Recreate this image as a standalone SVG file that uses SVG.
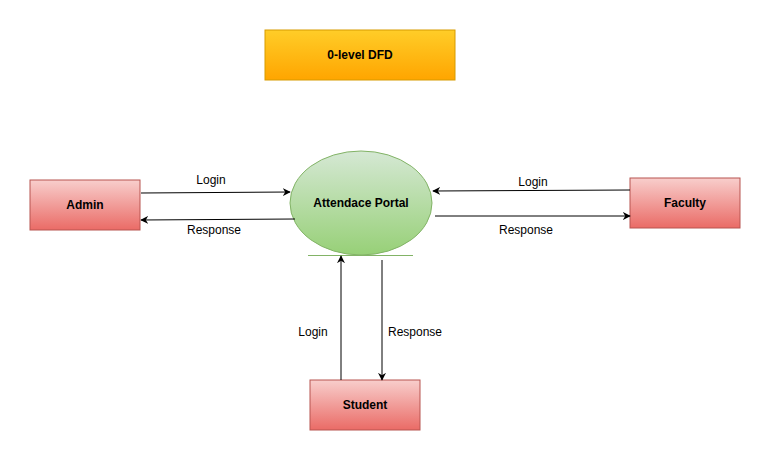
<svg xmlns="http://www.w3.org/2000/svg" width="771" height="461" viewBox="0 0 771 461">
<defs>
<linearGradient id="gy" x1="0" y1="0" x2="0" y2="1"><stop offset="0" stop-color="#ffcd28"/><stop offset="1" stop-color="#ffa500"/></linearGradient>
<linearGradient id="gg" x1="0" y1="0" x2="0" y2="1"><stop offset="0" stop-color="#d5e8d4"/><stop offset="1" stop-color="#97d077"/></linearGradient>
<linearGradient id="gr" x1="0" y1="0" x2="0" y2="1"><stop offset="0" stop-color="#f8cecc"/><stop offset="1" stop-color="#ea6b66"/></linearGradient>
<marker id="ah" viewBox="0 0 10 10" refX="9" refY="5" markerWidth="8" markerHeight="8" markerUnits="userSpaceOnUse" orient="auto"><path d="M0,0 L10,5 L0,10 L3,5 Z" fill="#000"/></marker>
<style>
.lbl{font-family:"Liberation Sans",Arial,sans-serif;font-size:12px;fill:#000;text-anchor:middle}
.nl{font-family:"Liberation Sans",Arial,sans-serif;font-size:12px;font-weight:bold;fill:#000;text-anchor:middle}
.ent{fill:url(#gr);stroke:#b85450;stroke-width:1}
.con{stroke:#000;stroke-width:1;fill:none;marker-end:url(#ah)}
</style>
</defs>
<rect width="771" height="461" fill="#fff"/>
<g id="title">
<rect x="265" y="30" width="190" height="50" fill="url(#gy)" stroke="#d79b00"/>
<text class="nl" x="360" y="59">0-level DFD</text>
</g>
<g id="portal">
<ellipse cx="361" cy="203" rx="71" ry="52" fill="url(#gg)" stroke="#82b366"/>
<line x1="308" y1="255.5" x2="413" y2="255.5" stroke="#82b366"/>
<text class="nl" x="361" y="207">Attendace Portal</text>
</g>
<g id="admin">
<rect class="ent" x="30" y="180" width="110" height="50"/>
<text class="nl" x="85" y="209">Admin</text>
</g>
<g id="faculty">
<rect class="ent" x="630" y="178" width="110" height="50"/>
<text class="nl" x="685" y="207">Faculty</text>
</g>
<g id="student">
<rect class="ent" x="310" y="380" width="110" height="50"/>
<text class="nl" x="365" y="409">Student</text>
</g>
<g id="connectors">
<line class="con" x1="141" y1="193" x2="290" y2="192"/>
<line class="con" x1="295" y1="219" x2="141" y2="220"/>
<line class="con" x1="630" y1="190" x2="433" y2="191"/>
<line class="con" x1="435" y1="216" x2="630" y2="216"/>
<line class="con" x1="341" y1="380" x2="341" y2="256"/>
<line class="con" x1="382" y1="260" x2="382" y2="380"/>
<text class="lbl" x="211" y="184">Login</text>
<text class="lbl" x="214" y="234">Response</text>
<text class="lbl" x="533" y="186">Login</text>
<text class="lbl" x="526" y="234">Response</text>
<text class="lbl" x="313" y="336">Login</text>
<text class="lbl" x="415" y="336">Response</text>
</g>
</svg>
